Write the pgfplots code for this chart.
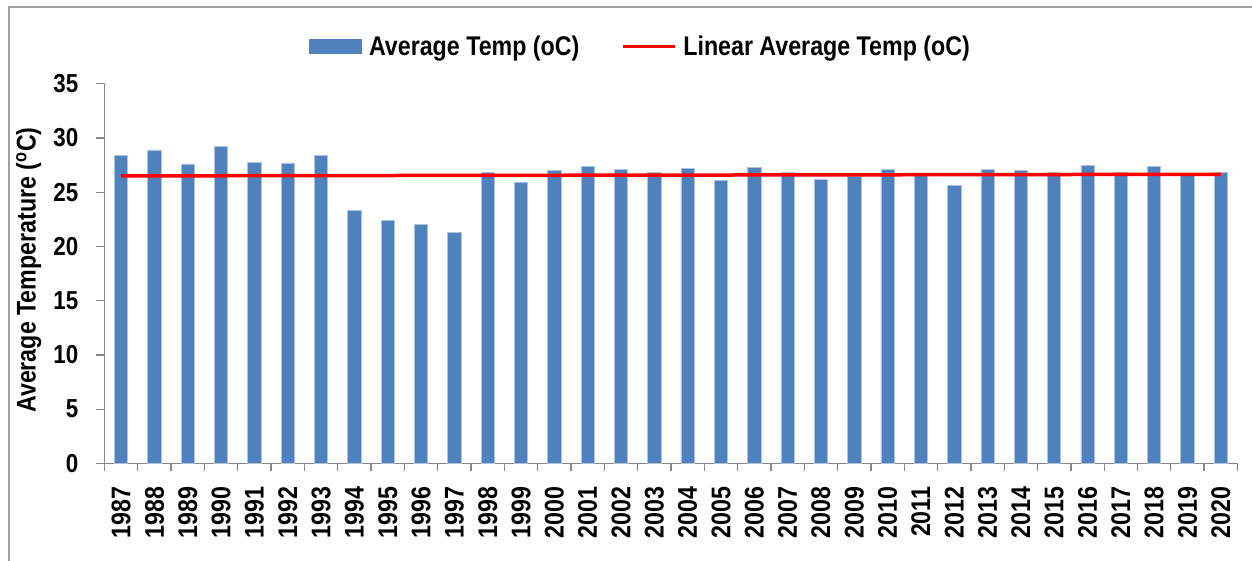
\documentclass[border=0pt]{standalone}
\usepackage{fontspec}
\setmainfont{Liberation Sans}[FakeStretch=0.86]
\usepackage{pgfplots}
\pgfplotsset{compat=1.18}
\definecolor{barblue}{RGB}{79,129,189}
\definecolor{baredge}{RGB}{170,196,226}
\definecolor{axgray}{RGB}{134,134,134}
\definecolor{framegray}{RGB}{160,160,160}
\begin{document}
\begin{tikzpicture}[x=1pt,y=1pt]
\useasboundingbox (0,0) rectangle (1252,561);
\draw[framegray, line width=1.2pt] (9,0) -- (9,554) -- (1252,554);
\begin{axis}[
  at={(104.5pt,97.6pt)}, anchor=south west,
  scale only axis, width=1133pt, height=379.7pt,
  xmin=-0.5, xmax=33.5, ymin=0, ymax=35,
  axis x line*=bottom, axis y line*=left,
  axis line style={axgray, line width=1.5pt},
  tick align=outside,
  tick style={axgray, line width=1.3pt},
  major tick length=9pt, minor tick length=8pt,
  xtick={0,...,33},
  xticklabels={1987,1988,1989,1990,1991,1992,1993,1994,1995,1996,1997,1998,1999,2000,2001,2002,2003,2004,2005,2006,2007,2008,2009,2010,2011,2012,2013,2014,2015,2016,2017,2018,2019,2020},
  major x tick style={draw=none},
  minor xtick={-0.5,0.5,...,33.5},
  ytick={0,5,...,35},
  /pgf/number format/assume math mode=true,
  xticklabel style={rotate=90, anchor=east, inner sep=0pt, xshift=-14pt, font=\bfseries\fontsize{27}{30}\selectfont},
  yticklabel style={anchor=east, inner sep=0pt, xshift=-17pt, font=\bfseries\fontsize{26}{30}\selectfont},
  ylabel={Average Temperature (\textsuperscript{o}C)},
  ylabel style={at={(axis description cs:-0.067,0.509)}, anchor=center, font=\bfseries\fontsize{27}{30}\selectfont},
  legend columns=2,
  legend style={at={(axis description cs:0.178,1.099)}, anchor=west, draw=none, fill=none,
    font=\bfseries\fontsize{27}{30}\selectfont,
    nodes={inner sep=0pt},
    /tikz/every even column/.append style={column sep=42pt},
    /tikz/every odd column/.append style={column sep=7pt}},
  clip=false,
]
\addplot[ybar, bar width=13.3pt, fill=barblue, draw=baredge, line width=0.7pt,
  legend image code/.code={\fill[barblue] (0pt,-7pt) rectangle (52pt,7pt);}]
coordinates {
(0,28.4) (1,28.9) (2,27.6) (3,29.25) (4,27.75) (5,27.7) (6,28.4) (7,23.3) (8,22.4) (9,22.0)
(10,21.3) (11,26.8) (12,25.9) (13,27.0) (14,27.4) (15,27.1) (16,26.8) (17,27.2) (18,26.1) (19,27.3)
(20,26.8) (21,26.2) (22,26.45) (23,27.1) (24,26.55) (25,25.6) (26,27.1) (27,27.0) (28,26.8) (29,27.5)
(30,26.8) (31,27.4) (32,26.6) (33,26.8)
};
\addlegendentry{Average Temp (oC)}
\addplot[red, line width=3.5pt,
  legend image code/.code={\draw[red, line width=3pt] (0pt,0pt) -- (52pt,0pt);}]
coordinates {(0,26.5) (33,26.65)};
\addlegendentry{Linear Average Temp (oC)}
\end{axis}
\end{tikzpicture}
\end{document}
